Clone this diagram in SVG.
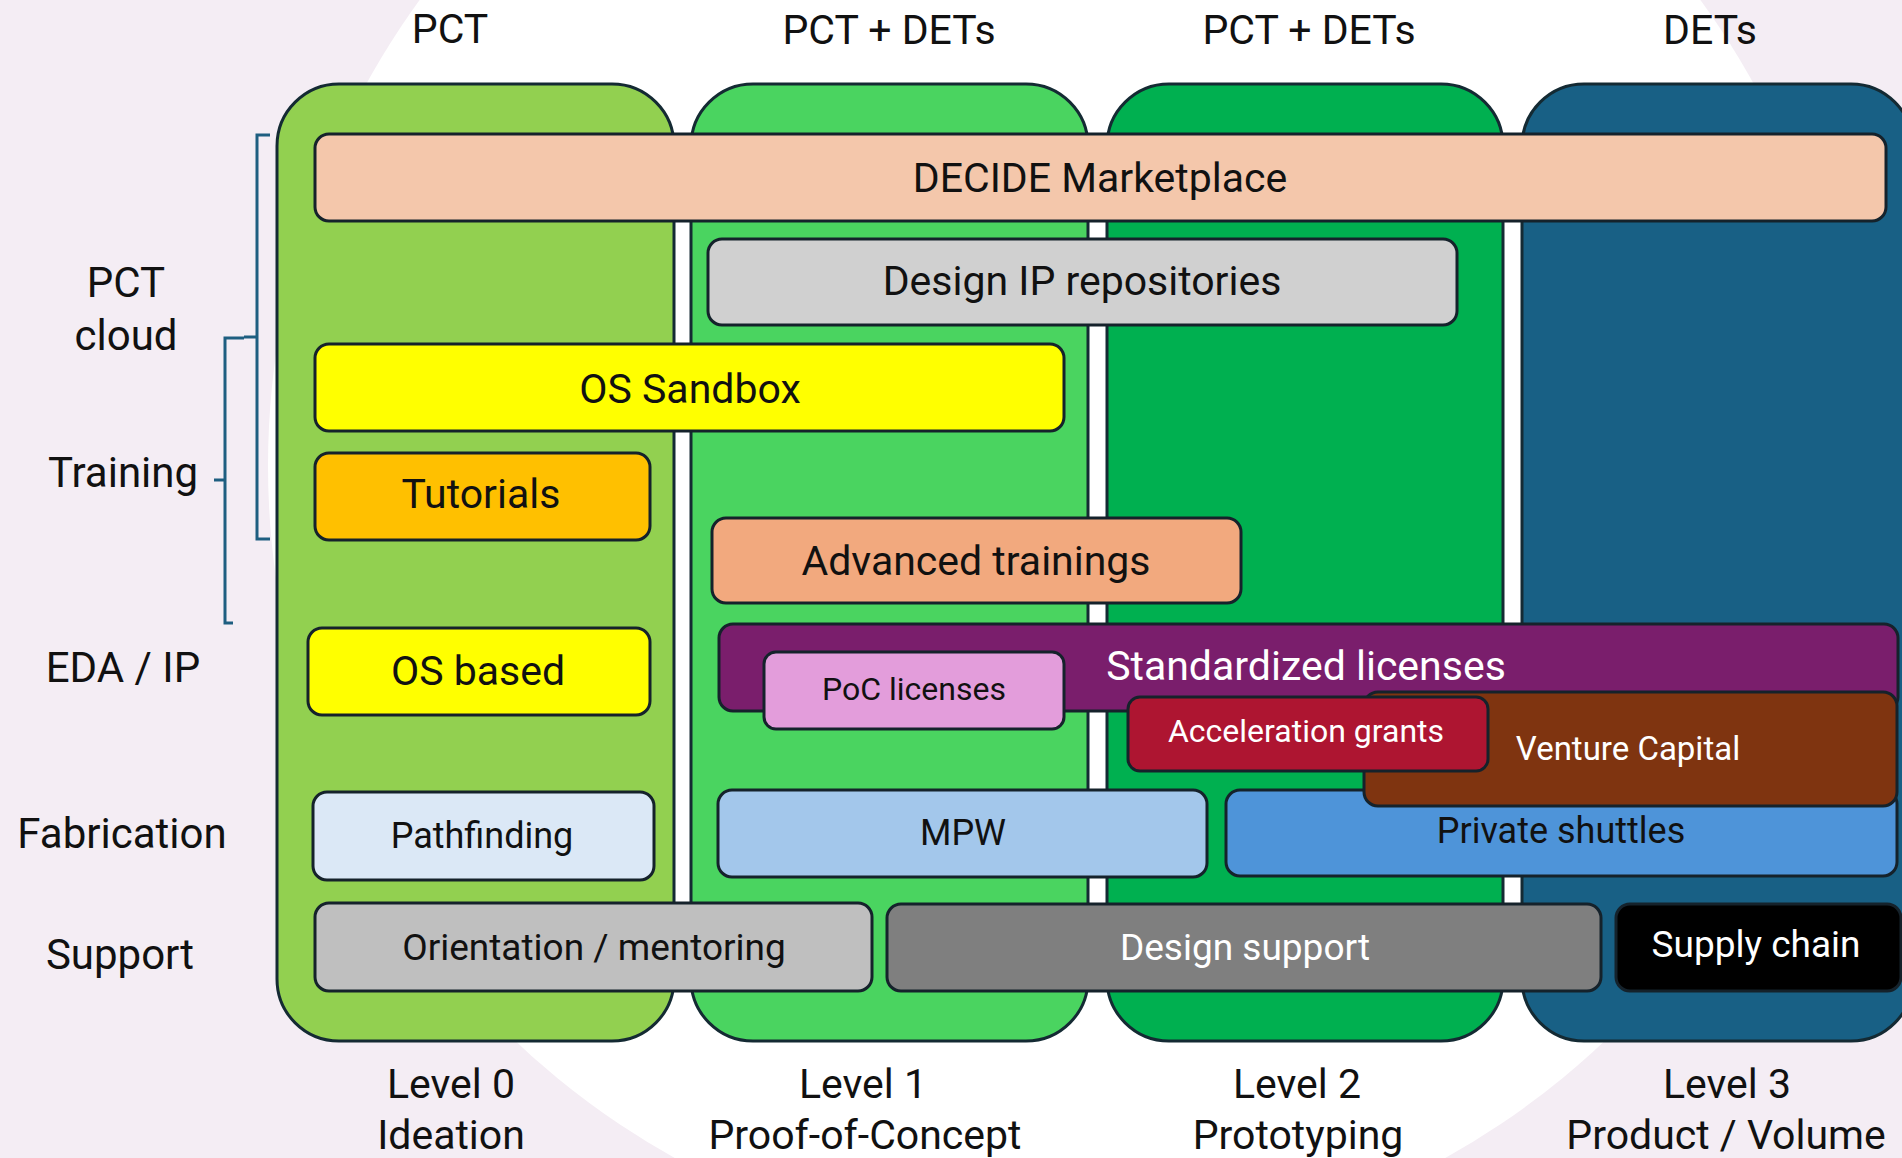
<svg xmlns="http://www.w3.org/2000/svg" width="1902" height="1158" viewBox="0 0 1902 1158">
<style>
.col{stroke:#142a33;stroke-width:3}
.box{stroke:#15222b;stroke-width:3}
text{font-family:Roboto,"Liberation Sans",sans-serif;fill:#111}
.lbl{font-size:41px;text-anchor:middle}
.row{font-size:42px;text-anchor:middle}
.bt{font-size:41px;text-anchor:middle}
.w{fill:#fff}
.br{fill:none;stroke:#1e5e80;stroke-width:3}
</style>
<rect width="1902" height="1158" fill="#f4edf4"/>
<circle cx="1060" cy="466" r="792" fill="#ffffff"/>

<g id="columns">
<rect id="col-level0" class="col" x="277" y="84" width="397" height="957" rx="62" fill="#92d050"/>
<rect id="col-level1" class="col" x="691" y="84" width="397" height="957" rx="62" fill="#4ad460"/>
<rect id="col-level2" class="col" x="1107" y="84" width="396" height="957" rx="62" fill="#00b050"/>
<rect id="col-level3" class="col" x="1522" y="84" width="391" height="957" rx="62" fill="#186085"/>
</g>

<g id="headers">
<text class="lbl" x="450" y="43">PCT</text>
<text class="lbl" x="889" y="44">PCT + DETs</text>
<text class="lbl" x="1309" y="44">PCT + DETs</text>
<text class="lbl" x="1710" y="44">DETs</text>
</g>

<g id="footers">
<text class="lbl" x="451" y="1098">Level 0</text>
<text class="lbl" x="451" y="1149">Ideation</text>
<text class="lbl" x="863" y="1098">Level 1</text>
<text class="lbl" x="865" y="1149">Proof-of-Concept</text>
<text class="lbl" x="1297" y="1098">Level 2</text>
<text class="lbl" x="1298" y="1149">Prototyping</text>
<text class="lbl" x="1727" y="1098">Level 3</text>
<text class="lbl" x="1726" y="1149">Product / Volume</text>
</g>

<g id="row-labels">
<text class="row" x="126" y="297">PCT</text>
<text class="row" x="126" y="350">cloud</text>
<text class="row" x="123" y="487">Training</text>
<text class="row" x="123" y="682">EDA / IP</text>
<text class="row" x="122" y="848">Fabrication</text>
<text class="row" x="120" y="969">Support</text>
</g>

<g id="connectors">
<path class="br" d="M270,135 H257 V539 H270 M257,337 H244"/>
<path class="br" d="M244,338 H225 V623 H233 M225,480 H214"/>
</g>

<g id="decide-marketplace">
<rect class="box" x="315" y="134" width="1571" height="87" rx="14" fill="#f4c7ab"/>
<text class="bt" x="1100" y="192">DECIDE Marketplace</text>
</g>
<g id="design-ip-repositories">
<rect class="box" x="708" y="239" width="749" height="86" rx="14" fill="#d0d0d0"/>
<text class="bt" x="1082" y="295">Design IP repositories</text>
</g>
<g id="os-sandbox">
<rect class="box" x="315" y="344" width="749" height="87" rx="14" fill="#ffff00"/>
<text class="bt" x="690" y="403">OS Sandbox</text>
</g>
<g id="tutorials">
<rect class="box" x="315" y="453" width="335" height="87" rx="14" fill="#ffc000"/>
<text class="bt" x="481" y="508">Tutorials</text>
</g>
<g id="advanced-trainings">
<rect class="box" x="712" y="518" width="529" height="85" rx="14" fill="#f2a97e"/>
<text class="bt" x="976" y="575">Advanced trainings</text>
</g>
<g id="os-based">
<rect class="box" x="308" y="628" width="342" height="87" rx="14" fill="#ffff00"/>
<text class="bt" x="478" y="685">OS based</text>
</g>
<g id="private-shuttles">
<rect class="box" x="1226" y="790" width="671" height="86" rx="14" fill="#4e94d9"/>
<text class="bt" x="1561" y="843" style="font-size:36px">Private shuttles</text>
</g>
<g id="standardized-licenses">
<rect class="box" x="719" y="624" width="1179" height="87" rx="14" fill="#7a1e6c"/>
<text class="bt w" x="1306" y="680">Standardized licenses</text>
</g>
<g id="venture-capital">
<rect class="box" x="1364" y="692" width="533" height="114" rx="14" fill="#7f3410"/>
<text class="bt w" x="1628" y="760" style="font-size:33px">Venture Capital</text>
</g>
<g id="acceleration-grants">
<rect class="box" x="1128" y="697" width="360" height="74" rx="12" fill="#ae1531"/>
<text class="bt w" x="1306" y="742" style="font-size:32px">Acceleration grants</text>
</g>
<g id="poc-licenses">
<rect class="box" x="764" y="652" width="300" height="77" rx="12" fill="#e39ddb"/>
<text class="bt" x="914" y="700" style="font-size:32px">PoC licenses</text>
</g>
<g id="pathfinding">
<rect class="box" x="313" y="792" width="341" height="88" rx="14" fill="#dbe8f6"/>
<text class="bt" x="482" y="848" style="font-size:36px">Pathfinding</text>
</g>
<g id="mpw">
<rect class="box" x="718" y="790" width="489" height="87" rx="14" fill="#a3c7eb"/>
<text class="bt" x="963" y="845" style="font-size:36px">MPW</text>
</g>
<g id="orientation-mentoring">
<rect class="box" x="315" y="903" width="557" height="88" rx="14" fill="#bfbfbf"/>
<text class="bt" x="594" y="960" style="font-size:37px">Orientation / mentoring</text>
</g>
<g id="design-support">
<rect class="box" x="887" y="904" width="714" height="87" rx="14" fill="#7f7f7f"/>
<text class="bt w" x="1245" y="960" style="font-size:37px">Design support</text>
</g>
<g id="supply-chain">
<rect class="box" x="1616" y="904" width="285" height="87" rx="14" fill="#000000"/>
<text class="bt w" x="1756" y="957" style="font-size:37px">Supply chain</text>
</g>
</svg>
